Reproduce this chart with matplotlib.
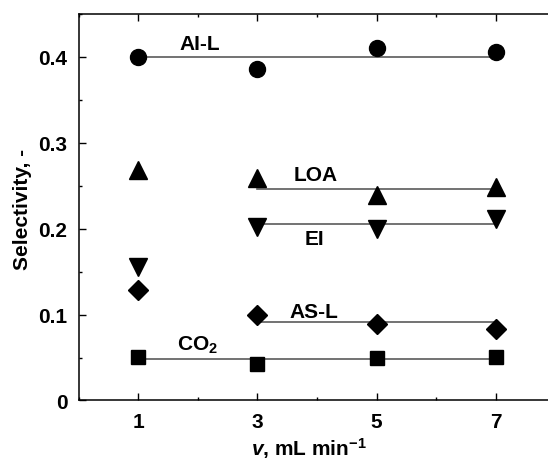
import matplotlib.pyplot as plt
from matplotlib.ticker import MultipleLocator

plt.rcParams["font.family"] = ["Liberation Sans", "DejaVu Sans"]
plt.rcParams["font.weight"] = "bold"
plt.rcParams["mathtext.fontset"] = "custom"
plt.rcParams["mathtext.rm"] = "Liberation Sans:bold"
plt.rcParams["mathtext.it"] = "Liberation Sans:bold:italic"
plt.rcParams["mathtext.bf"] = "Liberation Sans:bold"

# flow rate, mL/min
flow = [1, 3, 5, 7]

# selectivities per product
sel_ail = [0.400, 0.386, 0.410, 0.406]
sel_loa = [0.268, 0.259, 0.239, 0.248]
sel_ei = [0.155, 0.202, 0.199, 0.211]
sel_asl = [0.128, 0.099, 0.089, 0.083]
sel_co2 = [0.051, 0.043, 0.050, 0.051]

# mean levels (horizontal guide lines) and their x range
mean_ail, span_ail = 0.400, [1, 7]
mean_loa, span_loa = 0.2465, [3, 7]
mean_ei, span_ei = 0.205, [3, 7]
mean_asl, span_asl = 0.091, [3, 7]
mean_co2, span_co2 = 0.0477, [1, 7]

fig = plt.figure(figsize=(5.48, 4.64), dpi=100)
ax = fig.add_axes([0.1436, 0.1347, 0.870, 0.8336])

line_col = "#5a5a5a"
for mean, span in [(mean_ail, span_ail), (mean_loa, span_loa), (mean_ei, span_ei),
                   (mean_asl, span_asl), (mean_co2, span_co2)]:
    ax.plot(span, [mean, mean], color=line_col, lw=1.2, zorder=1)

ax.plot(flow, sel_ail, "o", color="black", ms=11.5, zorder=3)
ax.plot(flow, sel_loa, "^", color="black", ms=13, zorder=3)
ax.plot(flow, sel_ei, "v", color="black", ms=13, zorder=3)
ax.plot(flow, sel_asl, "D", color="black", ms=10, zorder=3)
ax.plot(flow, sel_co2, "s", color="black", ms=10.5, zorder=3)

lab_kw = dict(fontsize=15, fontweight="bold", ha="center", va="center")
ax.text(2.03, 0.415, "AI-L", **lab_kw)
ax.text(3.98, 0.263, "LOA", **lab_kw)
ax.text(3.95, 0.188, "EI", **lab_kw)
ax.text(3.95, 0.1035, "AS-L", **lab_kw)
ax.text(2.0, 0.0656, "CO$_2$", **lab_kw)

ax.set_xlim(0, 8)
ax.set_ylim(0, 0.45)
ax.set_xticks(flow)
ax.xaxis.set_minor_locator(MultipleLocator(1))
ax.set_yticks([0, 0.1, 0.2, 0.3, 0.4])
ax.set_yticklabels(["0", "0.1", "0.2", "0.3", "0.4"])
ax.yaxis.set_minor_locator(MultipleLocator(0.05))

ax.tick_params(which="both", direction="in", top=True, right=False, width=1.0)
ax.tick_params(which="major", length=5, labelsize=15, pad=8)
ax.tick_params(which="minor", length=2.5)
for lab in ax.get_xticklabels() + ax.get_yticklabels():
    lab.set_fontweight("bold")
for s in ax.spines.values():
    s.set_linewidth(1.1)

fig.text(23 / 548, 1 - 209 / 464, "Selectivity, -", fontsize=15, fontweight="bold",
         rotation=90, ha="center", va="center")
fig.text(309 / 548, 8 / 464, "$v$, mL min$^{-1}$", fontsize=15, fontweight="bold",
         ha="center", va="baseline")

fig.savefig("out.png", dpi=100)
